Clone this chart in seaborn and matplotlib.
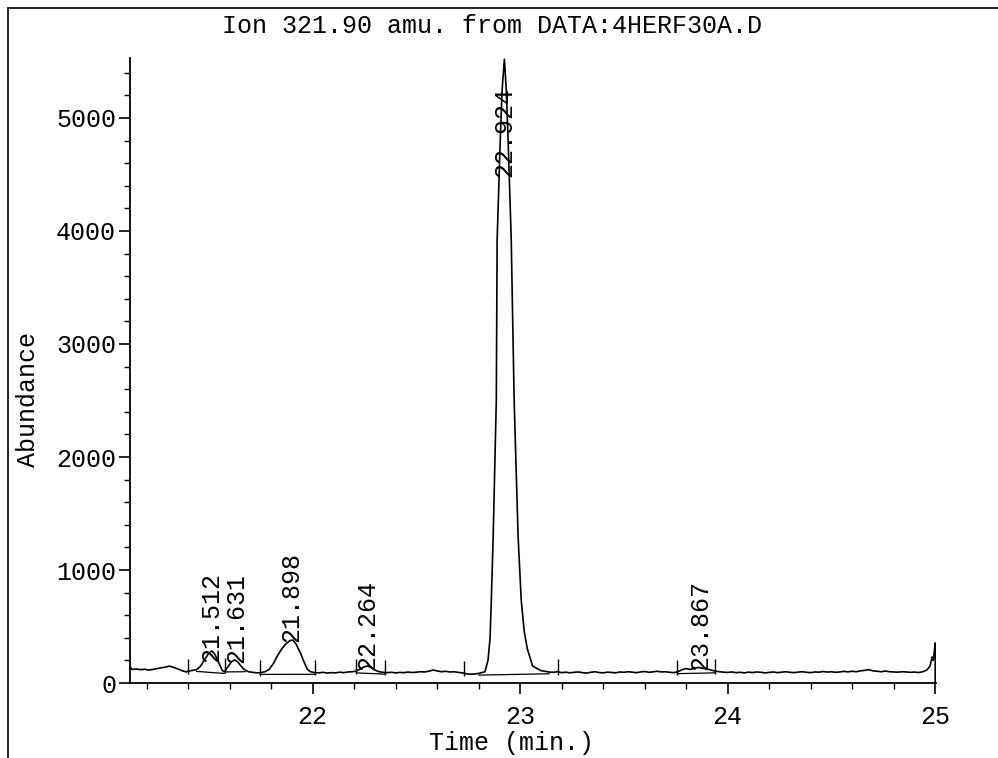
import numpy as np
import pandas as pd
import seaborn as sns
import matplotlib.pyplot as plt
from matplotlib.ticker import MultipleLocator

# trace (time in min, abundance)
time_min = [
    21.12, 21.125, 21.13, 21.15, 21.17, 21.19, 21.21, 21.23, 21.25, 21.27, 21.29,
    21.31, 21.33, 21.35, 21.37, 21.39, 21.40, 21.42, 21.44, 21.46, 21.48, 21.50,
    21.515, 21.53, 21.55, 21.565, 21.575, 21.59, 21.61, 21.625, 21.64, 21.655,
    21.67, 21.69, 21.71, 21.73, 21.75, 21.77, 21.79, 21.81, 21.83, 21.85, 21.87,
    21.89, 21.905, 21.92, 21.94, 21.96, 21.975, 21.99, 22.01, 22.03, 22.05, 22.07,
    22.09, 22.11, 22.13, 22.15, 22.17, 22.19, 22.21, 22.23, 22.25, 22.265, 22.28,
    22.30, 22.32, 22.34, 22.36, 22.38, 22.40, 22.42, 22.44, 22.46, 22.48, 22.50,
    22.52, 22.54, 22.56, 22.58, 22.60, 22.62, 22.64, 22.66, 22.68, 22.70, 22.72,
    22.74, 22.76, 22.78, 22.80, 22.83, 22.845, 22.855, 22.861, 22.870, 22.885,
    22.889, 22.904, 22.913, 22.924, 22.933, 22.942, 22.957, 22.971, 22.990,
    23.005, 23.02, 23.035, 23.06, 23.10, 23.14, 23.16, 23.18, 23.20, 23.22, 23.24,
    23.26, 23.28, 23.30, 23.32, 23.34, 23.36, 23.38, 23.40, 23.42, 23.44, 23.46,
    23.48, 23.50, 23.52, 23.54, 23.56, 23.58, 23.60, 23.62, 23.64, 23.66, 23.68,
    23.70, 23.72, 23.74, 23.76, 23.78, 23.80, 23.82, 23.84, 23.86, 23.88, 23.90,
    23.92, 23.94, 23.96, 23.98, 24.00, 24.02, 24.04, 24.06, 24.08, 24.10, 24.12,
    24.14, 24.16, 24.18, 24.20, 24.22, 24.24, 24.26, 24.28, 24.30, 24.32, 24.34,
    24.36, 24.38, 24.40, 24.42, 24.44, 24.46, 24.48, 24.50, 24.52, 24.54, 24.56,
    24.58, 24.60, 24.62, 24.64, 24.66, 24.68, 24.70, 24.72, 24.74, 24.76, 24.78,
    24.80, 24.82, 24.84, 24.86, 24.88, 24.90, 24.92, 24.94, 24.96, 24.975,
    24.985, 24.99, 24.995, 25.00, 25.00,
]
abundance = [
    150, 128, 120, 125, 118, 122, 115, 120, 128, 135, 140,
    150, 138, 125, 110, 98, 105, 112, 118, 150, 210, 265,
    285, 250, 170, 110, 100, 140, 190, 205, 185, 150,
    120, 100, 95, 90, 92, 100, 120, 170, 240, 300, 345,
    375, 380, 345, 270, 180, 120, 100, 92, 90, 95, 88,
    92, 90, 96, 92, 98, 100, 105, 125, 145, 150, 140,
    115, 100, 95, 92, 95, 90, 94, 92, 97, 93, 96,
    100, 98, 105, 115, 108, 100, 104, 98, 100, 95, 90,
    82, 78, 80, 85, 100, 200, 400, 735, 1300, 2500,
    3920, 4805, 5248, 5520, 5248, 4805, 3920, 2500, 1300,
    735, 450, 300, 150, 110, 97, 95, 100, 92, 96, 90,
    95, 98, 92, 88, 95, 100, 93, 90, 96, 94, 90,
    98, 95, 100, 96, 92, 98, 102, 95, 99, 104, 98,
    100, 95, 92, 100, 118, 128, 120, 132, 138, 130, 125,
    115, 105, 100, 96, 94, 98, 92, 95, 90, 96, 93,
    98, 95, 90, 94, 98, 92, 96, 100, 95, 92, 97,
    100, 95, 92, 98, 96, 102, 97, 100, 95, 98, 103,
    99, 104, 100, 108, 112, 118, 108, 104, 100, 106, 100,
    98, 96, 100, 98, 95, 97, 93, 100, 115, 150,
    230, 200, 260, 355, 0,
]

# integrated peaks
peak_rt = [21.512, 21.631, 21.898, 22.264, 22.924, 23.867]
label_y = [186, 180, 363, 115, 4478, 115]

# integration start/stop marks
event_t = [21.40, 21.58, 21.745, 22.01, 22.21, 22.35, 22.73, 23.18, 23.755, 23.94]
peak_start = [21.44, 21.58, 21.745, 22.21, 22.80, 23.755]
peak_end = [21.575, 21.675, 22.01, 22.35, 23.14, 23.94]

sns.set_theme(style='white')
plt.rcParams['font.family'] = ['Liberation Mono', 'DejaVu Sans Mono']

fig = plt.figure(figsize=(9.98, 7.58), dpi=100)
ax = fig.add_axes([0.1303, 0.0989, 0.8076, 0.8245])

df = pd.DataFrame({'Time': time_min, 'Abundance': abundance})
sns.lineplot(data=df, x='Time', y='Abundance', ax=ax, color='black',
             lw=1.2, estimator=None, sort=False)

# baselines under the peaks
base_a = np.interp(peak_start, time_min[:-1], abundance[:-1])
base_b = np.interp(peak_end, time_min[:-1], abundance[:-1])
for t0, t1, a0, a1 in zip(peak_start, peak_end, base_a, base_b):
    ax.plot([t0, t1], [a0 - 15, a1 - 15], color='black', lw=0.9)

ev_base = np.interp(event_t, time_min[:-1], abundance[:-1])
ax.vlines(event_t, ev_base - 25, ev_base + 110, color='black', lw=1.0)

for rt, ly in zip(peak_rt, label_y):
    ax.text(rt, ly, f'{rt:.3f}', rotation=90, ha='center', va='bottom',
            fontsize=18, color='black')

ax.set_xlim(21.12, 25.004)
ax.set_ylim(0, 5530)
sns.despine(ax=ax)
for s in ['left', 'bottom']:
    ax.spines[s].set_color('black')
    ax.spines[s].set_linewidth(1.3)

ax.xaxis.set_major_locator(MultipleLocator(1))
ax.xaxis.set_minor_locator(MultipleLocator(0.2))
ax.yaxis.set_major_locator(MultipleLocator(1000))
ax.yaxis.set_minor_locator(MultipleLocator(200))
ax.tick_params(which='major', direction='out', length=8, width=1.2,
               color='black', labelsize=18, labelcolor='black',
               bottom=True, left=True)
ax.tick_params(axis='x', which='major', pad=8)
ax.tick_params(axis='y', which='major', pad=2)
ax.tick_params(which='minor', direction='out', length=4, width=1.0,
               color='black', bottom=True, left=True)

ax.set_xlabel('Time (min.)', fontsize=18, color='black')
ax.set_ylabel('Abundance', fontsize=18, color='black')
ax.xaxis.set_label_coords(0.473, -0.076)
ax.yaxis.set_label_coords(-0.112, 0.453)

fig.text(0.493, 0.966, 'Ion 321.90 amu. from DATA:4HERF30A.D',
         ha='center', va='center', fontsize=18, color='black')

# page frame of the scan
fig.add_artist(plt.Line2D([0.008, 0.008], [0.0, 0.989], transform=fig.transFigure,
                          color='black', lw=1.2))
fig.add_artist(plt.Line2D([0.008, 1.0], [0.989, 0.989], transform=fig.transFigure,
                          color='black', lw=1.2))

fig.savefig('out.png', dpi=100)
